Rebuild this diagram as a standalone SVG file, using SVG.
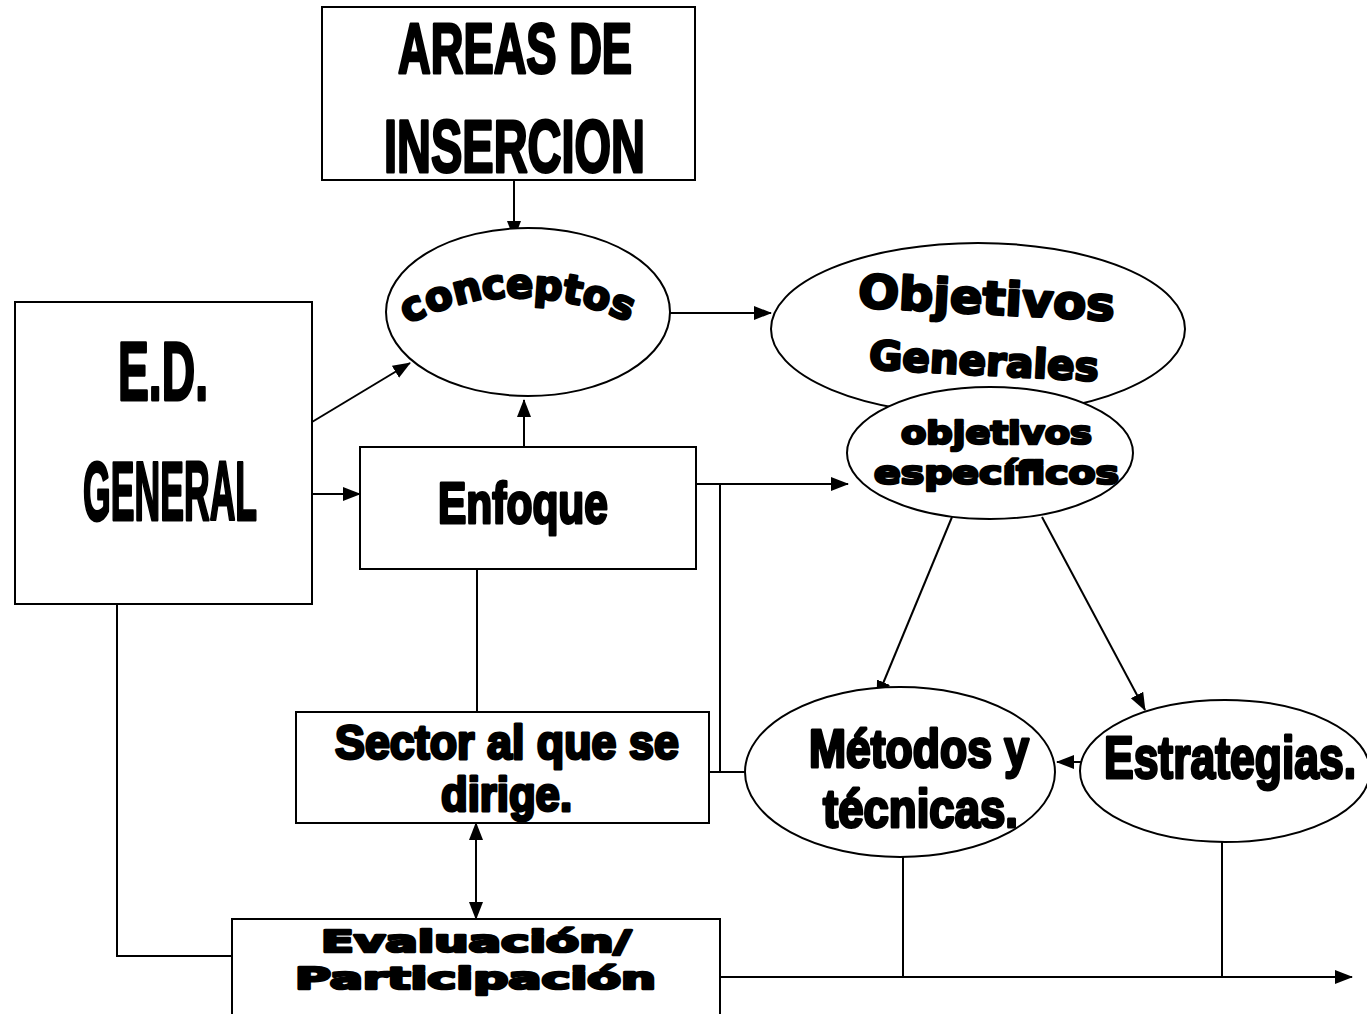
<svg xmlns="http://www.w3.org/2000/svg" width="1367" height="1014" viewBox="0 0 1367 1014">
<style>
.box{fill:#fff;stroke:#000;stroke-width:2}
.ell{fill:#fff;stroke:#000;stroke-width:2}
.ln{fill:none;stroke:#000;stroke-width:2}
.nar{font-family:"Liberation Sans",Arial,sans-serif;font-weight:bold;fill:#000;stroke:#000;stroke-width:3;stroke-linejoin:round;text-anchor:start}
.wid{font-family:"DejaVu Sans","Liberation Sans",sans-serif;font-weight:bold;fill:#000;stroke:#000;stroke-width:2.6;stroke-linejoin:round;text-anchor:start}
</style>
<defs>
<marker id="ah" markerWidth="18" markerHeight="16" refX="17" refY="8" orient="auto" markerUnits="userSpaceOnUse">
<path d="M0,1 L18,8 L0,15 Z" fill="#000"/>
</marker>
<marker id="as" markerWidth="18" markerHeight="16" refX="1" refY="8" orient="auto" markerUnits="userSpaceOnUse">
<path d="M18,1 L0,8 L18,15 Z" fill="#000"/>
</marker>
</defs>
<rect width="1367" height="1014" fill="#fff"/>

<g id="connectors">
<path class="ln" d="M514,180 L514,238" marker-end="url(#ah)"/>
<path class="ln" d="M312,422 L410,363" marker-end="url(#ah)"/>
<path class="ln" d="M312,494 L360,494" marker-end="url(#ah)"/>
<path class="ln" d="M524,447 L524,400" marker-end="url(#ah)"/>
<path class="ln" d="M670,313 L771,313" marker-end="url(#ah)"/>
<path class="ln" d="M696,484 L848,484" marker-end="url(#ah)"/>
<path class="ln" d="M720,484 L720,772"/>
<path class="ln" d="M709,772 L745,772"/>
<path class="ln" d="M952,517 L877,698" marker-end="url(#ah)"/>
<path class="ln" d="M1042,517 L1145,710" marker-end="url(#ah)"/>
<path class="ln" d="M1081,762 L1057,762" marker-end="url(#ah)"/>
<path class="ln" d="M477,569 L477,712"/>
<path class="ln" d="M476,823 L476,919" marker-start="url(#as)" marker-end="url(#ah)"/>
<path class="ln" d="M117,604 L117,956 L232,956"/>
<path class="ln" d="M903,857 L903,977"/>
<path class="ln" d="M1222,842 L1222,977"/>
<path class="ln" d="M720,977 L1352,977" marker-end="url(#ah)"/>
</g>

<g id="areas">
<rect class="box" x="322" y="7" width="373" height="173"/>
<text class="nar" x="0" y="0" font-size="71" transform="translate(398 73) scale(0.638 1)">AREAS DE</text>
<text class="nar" x="0" y="0" font-size="74" transform="translate(384 172) scale(0.635 1)">INSERCION</text>
</g>

<g id="conceptos">
<ellipse class="ell" cx="528" cy="312" rx="142" ry="84"/>
<text class="wid" font-size="40" x="407 429.6 455.9 483.5 506.6 533.2 561.6 580.4 607" y="324 314 305.3 300.2 298.2 298.5 301.7 305.5 313.4" rotate="-24 -19 -14 -8 -2 4 10 14 20">conceptos</text>
</g>

<g id="objetivos-generales">
<ellipse class="ell" cx="978" cy="329" rx="207" ry="86"/>
<text class="wid" x="858" y="314" font-size="46" textLength="257" lengthAdjust="spacingAndGlyphs" transform="rotate(3 988 300)">Objetivos</text>
<text class="wid" x="869" y="375" font-size="40" textLength="230" lengthAdjust="spacingAndGlyphs" transform="rotate(3 984 362)">Generales</text>
</g>

<g id="objetivos-especificos">
<ellipse class="ell" cx="990" cy="453" rx="143" ry="66"/>
<text class="wid" x="901" y="444" font-size="32" textLength="191" lengthAdjust="spacingAndGlyphs">objetivos</text>
<text class="wid" x="874" y="484" font-size="32" textLength="245" lengthAdjust="spacingAndGlyphs">específicos</text>
</g>

<g id="ed-general">
<rect class="box" x="15" y="302" width="297" height="302"/>
<text class="nar" x="0" y="0" font-size="84" transform="translate(118 400) scale(0.551 1)">E.D.</text>
<text class="nar" x="0" y="0" font-size="84" transform="translate(83 520) scale(0.424 1)">GENERAL</text>
</g>

<g id="enfoque">
<rect class="box" x="360" y="447" width="336" height="122"/>
<text class="nar" x="0" y="0" font-size="58" transform="translate(438 523) scale(0.733 1)">Enfoque</text>
</g>

<g id="sector">
<rect class="box" x="296" y="712" width="413" height="111"/>
<text class="nar" x="0" y="0" font-size="48" transform="translate(335 759) scale(0.934 1)">Sector al que se</text>
<text class="nar" x="0" y="0" font-size="48" transform="translate(441 811) scale(0.91 1)">dirige.</text>
</g>

<g id="metodos">
<ellipse class="ell" cx="900" cy="772" rx="155" ry="85"/>
<text class="nar" x="0" y="0" font-size="54" transform="translate(809 767) scale(0.824 1)">Métodos y</text>
<text class="nar" x="0" y="0" font-size="54" transform="translate(823 827) scale(0.844 1)">técnicas.</text>
</g>

<g id="estrategias">
<ellipse class="ell" cx="1225" cy="771" rx="145" ry="71"/>
<text class="nar" x="0" y="0" font-size="60" transform="translate(1104 778) scale(0.741 1)">Estrategias.</text>
</g>

<g id="evaluacion">
<rect class="box" x="232" y="919" width="488" height="110"/>
<text class="wid" x="321" y="952" font-size="30" textLength="310" lengthAdjust="spacingAndGlyphs">Evaluación/</text>
<text class="wid" x="295" y="989" font-size="30" textLength="361" lengthAdjust="spacingAndGlyphs">Participación</text>
</g>
</svg>
